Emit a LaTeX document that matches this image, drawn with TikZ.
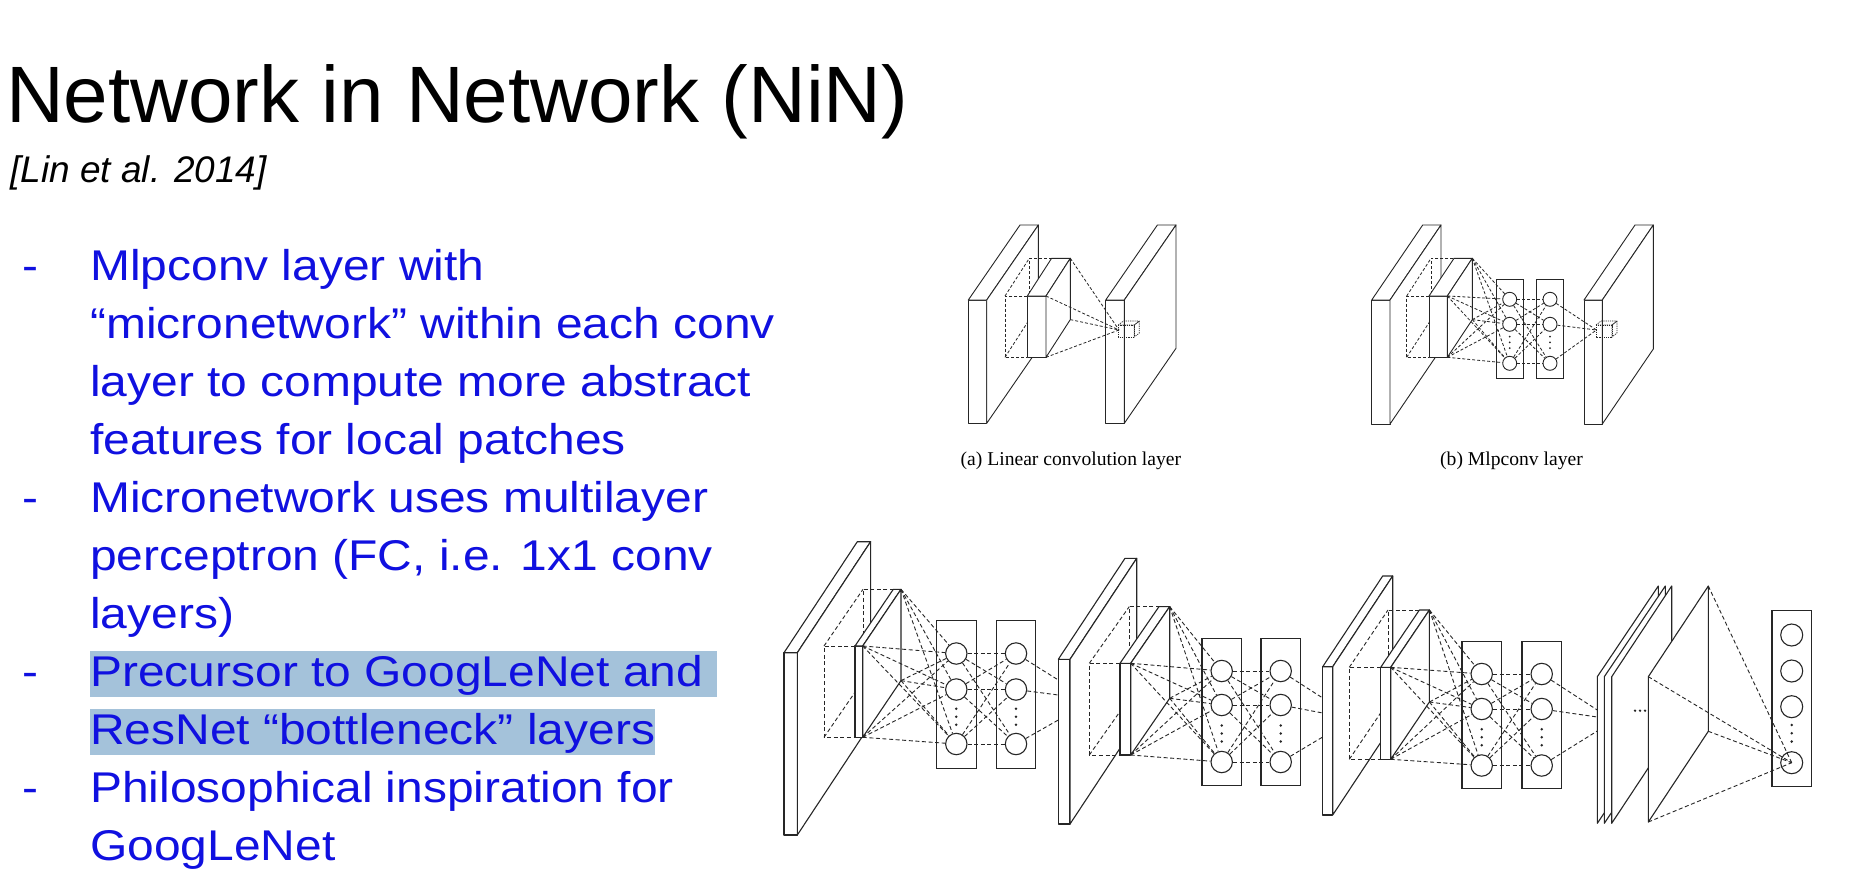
\documentclass[tikz,border=0pt]{standalone}
\usepackage{fontspec}
\setmainfont{Liberation Sans}
\newfontfamily\slidefont[FakeStretch=1.115]{Liberation Sans}
\newfontfamily\paperfont{Liberation Serif}
\usepackage{tikz}
\usetikzlibrary{calc}
\definecolor{ink}{HTML}{262626}
\definecolor{slideblue}{HTML}{1010E0}
\definecolor{mark}{HTML}{A4C2DA}
\tikzset{
  face/.style={draw=ink, fill=white, line width=1.1pt, line join=round},
  rf/.style={draw=ink, line width=0.9pt, dash pattern=on 4pt off 2.6pt},
  lnk/.style={draw=ink, line width=0.9pt, dash pattern=on 4pt off 2.6pt},
  col/.style={draw=ink, line width=1.1pt, inner sep=0pt, minimum width=39.5pt, minimum height=147.5pt},
  unit/.style={circle, draw=ink, fill=white, line width=1.1pt, inner sep=0pt, minimum size=21.4pt},
  cube/.style={face/.append style={fill=none, line width=0.7pt, dash pattern=on 1.2pt off 1pt}},
  fine/.style={face/.append style={line width=0.9pt},
    rf/.append style={line width=0.8pt, dash pattern=on 3pt off 2pt},
    lnk/.append style={line width=0.8pt, dash pattern=on 3pt off 2pt},
    col/.append style={line width=0.9pt, minimum width=27pt, minimum height=99pt},
    unit/.append style={line width=0.9pt, minimum size=14pt}},
  ttl/.style={anchor=base west, inner sep=0pt, font=\fontsize{80}{96}\selectfont},
  cite/.style={anchor=base west, inner sep=0pt, font=\itshape\fontsize{37}{44}\selectfont},
  bul/.style={anchor=base west, inner sep=0pt, text=slideblue, font=\slidefont\fontsize{43}{58}\selectfont},
  hlt/.style={bul, fill=mark, text height=35.5pt, text depth=10.7pt},
  capt/.style={anchor=base west, inner sep=0pt, font=\paperfont\fontsize{19.6}{23}\selectfont},
  pics/slab/.style n args={4}{code={
    \coordinate (-a) at (0,0);
    \coordinate (-b) at (#1,0);
    \coordinate (-c) at (#1,#2);
    \coordinate (-d) at (0,#2);
    \coordinate (-e) at (#3,#4);
    \coordinate (-f) at (#1+#3,#4);
    \coordinate (-g) at (#1+#3,#2+#4);
    \coordinate (-h) at (#3,#2+#4);
    \path[face] (-a) rectangle (-c);
    \path[face] (-a) -- (-e) -- (-f) -- (-b) -- cycle;
    \path[face] (-b) -- (-f) -- (-g) -- (-c) -- cycle;
  }},
  pics/field/.style n args={4}{code={
    \coordinate (-a) at (0,0);
    \coordinate (-d) at (0,#2);
    \coordinate (-e) at (#3,#4);
    \coordinate (-h) at (#3,#2+#4);
    \draw[rf] (#1,0) -- (-a) -- (-d) -- (#1,#2);
    \draw[rf] (#1+#3,#4) -- (-e) -- (-h);
    \draw[rf] (-a) -- (-e) (-d) -- (-h);
  }},
  pics/sheet/.style n args={3}{code={
    \coordinate (-a) at (0,0);
    \coordinate (-d) at (0,#1);
    \coordinate (-e) at (#2,#3);
    \coordinate (-g) at (#2,#1+#3);
    \path[face] (-a) -- (-e) -- (-g) -- (-d) -- cycle;
  }},
}

\begin{document}
\begin{tikzpicture}[x=1pt, y=-1pt]
  \fill[white] (0,0) rectangle (1864,870);
  \useasboundingbox (0,0) rectangle (1864,870);

  \node[ttl] (title) at (6,122) {Network in Network (NiN)};
  \node[cite] (ref) at (10,182) {[Lin et al. 2014]};
  \node[bul] (m1) at (22,280) {-};
  \node[bul] (m2) at (22,512) {-};
  \node[bul] (m3) at (22,686) {-};
  \node[bul] (m4) at (22,802) {-};
  \node[bul] (l1) at (90,280) {Mlpconv layer with};
  \node[bul] (l2) at (90,338) {“micronetwork” within each conv};
  \node[bul] (l3) at (90,396) {layer to compute more abstract};
  \node[bul] (l4) at (90,454) {features for local patches};
  \node[bul] (l5) at (90,512) {Micronetwork uses multilayer};
  \node[bul] (l6) at (90,570) {perceptron (FC, i.e. 1x1 conv};
  \node[bul] (l7) at (90,628) {layers)};
  \node[hlt] (l8) at (90,686) {Precursor to GoogLeNet and\kern14pt};
  \node[hlt] (l9) at (90,744) {ResNet “bottleneck” layers};
  \node[bul] (l10) at (90,802) {Philosophical inspiration for};
  \node[bul] (l11) at (90,860) {GoogLeNet};

  \begin{scope}[fine]
    % (a) linear convolution
    \pic (a-L) at (968.3,300) {slab={18.4}{123.3}{51.7}{-75}};
    \pic (a-F) at (1005,296) {field={22.3}{61.3}{24.3}{-37.7}};
    \pic (a-M) at (1027.3,296) {slab={18.7}{61.3}{24.3}{-37.7}};
    \pic (a-R) at (1105.7,300) {slab={18.6}{123.3}{51.7}{-75}};
    \pic[cube] (a-C) at (1118.3,325) {slab={16}{12}{5}{-4}};
    \coordinate (a-P) at (1119,330);
    \foreach \s in {b,c,f,g}
      \draw[lnk] (a-M-\s) -- (a-P);

    % (b) mlpconv
    \pic (b-L) at (1371.7,300) {slab={18.3}{124}{51}{-75}};
    \pic (b-F) at (1406.7,296) {field={22.3}{61.3}{24.3}{-37.7}};
    \pic (b-M) at (1429,296) {slab={18.3}{61.3}{25}{-37.7}};
    \pic (b-R) at (1584,300) {slab={18.3}{124}{51}{-75}};
    \pic[cube] (b-C) at (1596,325) {slab={16}{12}{5}{-4}};
    \coordinate (b-P) at (1596.5,330);
    \node[col] (b-p) at (1509.7,328.7) {};
    \node[col] (b-q) at (1550,328.7) {};
    \foreach \i/\y in {1/299.3,2/324.3,3/363.3} {
      \node[unit] (b-p\i) at (1509.7,\y) {};
      \node[unit] (b-q\i) at (1550,\y) {};
    }
    \foreach \k in {0,1,2} {
      \fill[ink] (1509.7,336.7+5.7*\k) circle (1);
      \fill[ink] (1550,336.7+5.7*\k) circle (1);
    }
    \foreach \s in {b,c,f,g}
      \foreach \t in {1,2,3}
        \draw[lnk] (b-M-\s) -- (b-p\t);
    \foreach \s in {1,2,3} {
      \foreach \t in {1,2,3}
        \draw[lnk] (b-p\s) -- (b-q\t);
      \draw[lnk] (b-q\s) -- (b-P);
    }
  \end{scope}
  \node[capt] (capa) at (960.5,465) {(a) Linear convolution layer};
  \node[capt] (capb) at (1440,465) {(b) Mlpconv layer};

  % NiN: three mlpconv layers + global average pooling
  \pic (c1-L) at (784,652.7) {slab={13.3}{182.3}{73.3}{-111}};
  \pic (c1-F) at (824,646) {field={31}{91.3}{39}{-56.7}};
  \pic (c1-M) at (855,646) {slab={7.7}{91.3}{38.3}{-56.7}};
  \pic (c2-L) at (1058.3,659.3) {slab={11.7}{164.7}{66.7}{-101}};
  \pic (c2-F) at (1089.3,663.3) {field={30.7}{91.7}{40}{-56.7}};
  \pic (c2-M) at (1120,663.3) {slab={10.7}{91.7}{39}{-56.7}};
  \pic (c3-L) at (1322.7,666.7) {slab={10}{148.3}{60}{-90.7}};
  \pic (c3-F) at (1349.3,667.3) {field={31.4}{92}{38.7}{-57.3}};
  \pic (c3-M) at (1380.7,667.3) {slab={10}{92}{38.7}{-57.3}};
  \pic (s1) at (1597.3,676.7) {sheet={146.6}{61}{-90.7}};
  \pic (s2) at (1604.3,676.7) {sheet={146.6}{61}{-90.7}};
  \pic (s3) at (1611.7,676.7) {sheet={146.6}{60}{-90.7}};
  \pic (gp) at (1648.3,676.7) {sheet={145.3}{60}{-90.7}};
  \coordinate (c1-o1) at (1058.3,680);
  \coordinate (c1-o2) at (1058.3,695);
  \coordinate (c1-o3) at (1058.3,720);
  \coordinate (c2-o1) at (1322.7,698);
  \coordinate (c2-o2) at (1322.7,713);
  \coordinate (c2-o3) at (1322.7,737);
  \coordinate (c3-o1) at (1597.3,710);
  \coordinate (c3-o2) at (1597.3,717);
  \coordinate (c3-o3) at (1597.3,731);

  \foreach \blk/\xp/\xq/\ya/\yb/\yc in {c1/956.3/1016/653.5/689.5/744,
      c2/1221.7/1280.7/671/705/762, c3/1481.7/1541.7/674/709/765.5} {
    \node[col] (\blk-p) at (\xp,\ya+41) {};
    \node[col] (\blk-q) at (\xq,\ya+41) {};
    \foreach \i/\y in {1/\ya,2/\yb,3/\yc} {
      \node[unit] (\blk-p\i) at (\xp,\y) {};
      \node[unit] (\blk-q\i) at (\xq,\y) {};
    }
    \foreach \k in {-1,0,1} {
      \fill[ink] (\xp,{(\yb+\yc)/2+8*\k}) circle (1.4);
      \fill[ink] (\xq,{(\yb+\yc)/2+8*\k}) circle (1.4);
    }
    \foreach \s in {b,c,f,g}
      \foreach \t in {1,2,3}
        \draw[lnk] (\blk-M-\s) -- (\blk-p\t);
    \foreach \s in {1,2,3} {
      \foreach \t in {1,2,3}
        \draw[lnk] (\blk-p\s) -- (\blk-q\t);
      \draw[lnk] (\blk-q\s) -- (\blk-o\s);
    }
  }

  \foreach \k in {0,1,2}
    \fill[ink] (1635+5*\k,710.7) circle (1.3);
  \node[col, minimum height=176pt] (out) at (1791.7,698.7) {};
  \foreach \i/\y in {1/635,2/671,3/706.7,4/762.7}
    \node[unit, minimum size=22pt] (out\i) at (1791.7,\y) {};
  \foreach \k in {0,1,2}
    \fill[ink] (1791.7,725+8.3*\k) circle (1.4);
  \foreach \s in {a,d,e,g}
    \draw[lnk] (gp-\s) -- (out4.center);
\end{tikzpicture}
\end{document}
